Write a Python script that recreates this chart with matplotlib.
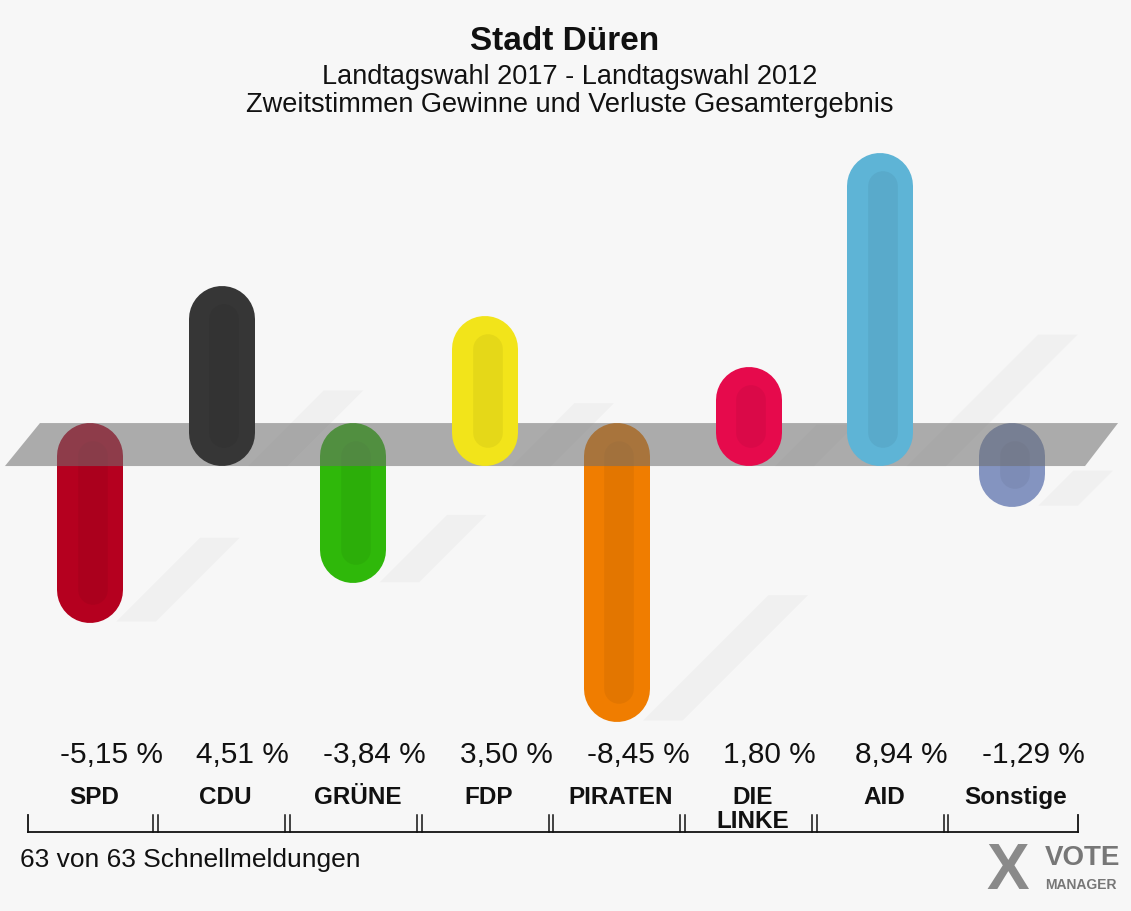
import numpy as np
import matplotlib
matplotlib.use("Agg")
from matplotlib import pyplot as plt
from matplotlib.patches import Polygon

plt.rcParams["font.family"] = ["Liberation Sans", "DejaVu Sans"]

# data
parties = ["SPD", "CDU", "GRÜNE", "FDP", "PIRATEN", "DIE\nLINKE", "AID", "Sonstige"]
changes = [-5.15, 4.51, -3.84, 3.50, -8.45, 1.80, 8.94, -1.29]
colors = ["#b5001f", "#363636", "#2fb80a", "#f2e41a", "#f07d00",
          "#e60a4c", "#5eb4d6", "#8494c0"]

title = "Stadt Düren"
subtitle = "Landtagswahl 2017 - Landtagswahl 2012\nZweitstimmen Gewinne und Verluste Gesamtergebnis"
footnote = "63 von 63 Schnellmeldungen"

W, H = 1131, 911
fig = plt.figure(figsize=(W / 100, H / 100), dpi=100)
fig.patch.set_facecolor("#f7f7f7")
ax = fig.add_axes([0, 0, 1, 1])
ax.set_facecolor("#f7f7f7")
ax.set_xlim(-0.683, 7.904)
ax.set_ylim(-15.55, 14.82)
ax.axis("off")


def px(xp, yp):
    # pixel -> data helper for decoration
    return ((xp - 90) / 131.7, (444.5 - yp) / 30.0)


x = np.arange(len(parties))
bar_lw = 66 * 0.72
half_band = 0.72

# faint diagonal shadows
for xi, v in zip(x, changes):
    L = abs(v) + 1.5
    if v < 0:
        y0 = v - 0.75
    else:
        y0 = -half_band
    x0 = xi + 0.2
    dx = 0.42 * L * 30 / 131.7
    dy = 0.42 * L
    w = 0.3
    shadow = Polygon([(x0, y0), (x0 + dx, y0 + dy), (x0 + dx + w, y0 + dy), (x0 + w, y0)],
                     closed=True, facecolor="#9a9a9a", alpha=0.07, edgecolor="none", zorder=1)
    ax.add_patch(shadow)


def draw_bar(xi, v, c, z):
    s = np.sign(v)
    y_start = s * 0.383
    y_end = v - s * 0.317
    ax.plot([xi, xi], [y_start, y_end], color=c, lw=bar_lw,
            solid_capstyle="round", zorder=z)
    ax.plot([xi + 0.02, xi + 0.02], [y_start, y_end], color="black", alpha=0.05,
            lw=bar_lw * 0.45, solid_capstyle="round", zorder=z + 0.1)


for xi, v, c in zip(x, changes, colors):
    if v < 0:
        draw_bar(xi, v, c, 2)

# gray zero band
band = Polygon([px(5, 466), px(40, 423), px(1118, 423), px(1085, 466)],
               closed=True, facecolor="#6e6e6e", alpha=0.55, edgecolor="none", zorder=3)
ax.add_patch(band)

for xi, v, c in zip(x, changes, colors):
    if v > 0:
        draw_bar(xi, v, c, 4)

# value and party labels
for xi, v, name in zip(x, changes, parties):
    lbl = f"{v:.2f}".replace(".", ",") + " %"
    ax.text(xi + 0.16, -10.35, lbl, ha="center", va="center", fontsize=21.5, color="#111111")
    ax.text(xi + 0.03, -11.38, name, ha="center", va="top", fontsize=17.5,
            fontweight="bold", color="#111111", linespacing=1.05)

# brackets
ax.plot([-0.47, 7.5], [-12.92, -12.92], color="#111111", lw=1.3, zorder=5)
edges = [-0.47] + [i + 0.5 for i in range(7)] + [7.5]
for k, e in enumerate(edges):
    if k in (0, len(edges) - 1):
        ax.plot([e, e], [-12.92, -12.35], color="#111111", lw=1.3, zorder=5)
    else:
        for d in (-0.018, 0.018):
            ax.plot([e + d, e + d], [-12.92, -12.35], color="#111111", lw=1.1, zorder=5)

# titles
fig.text(565 / W, 1 - 42 / H, title, ha="center", va="center", fontsize=24,
         fontweight="bold", color="#111111")
fig.text(570 / W, 1 - 91 / H, subtitle, ha="center", va="center", fontsize=19.5,
         color="#111111", linespacing=1.15)
fig.text(20 / W, 1 - 860 / H, footnote, ha="left", va="center", fontsize=19, color="#111111")

# logo
fig.text(1008 / W, 1 - 872 / H, "X", ha="center", va="center", fontsize=46,
         fontweight="bold", color="#8a8a8a")
fig.text(1045 / W, 1 - 858 / H, "VOTE", ha="left", va="center", fontsize=20,
         fontweight="bold", color="#777777")
fig.text(1045 / W, 1 - 885 / H, "MANAGER", ha="left", va="center", fontsize=10,
         fontweight="bold", color="#777777")

fig.savefig("out.png", dpi=100, facecolor=fig.get_facecolor())
